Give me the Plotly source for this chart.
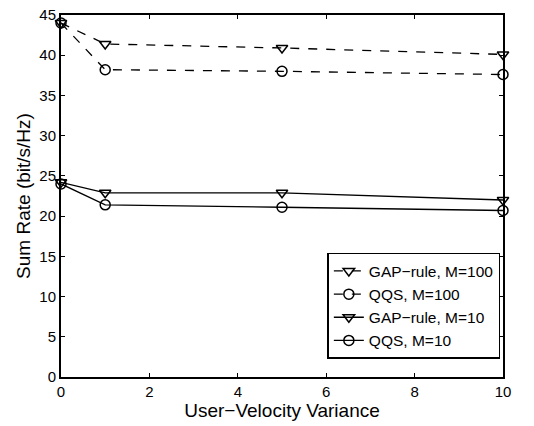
import plotly.graph_objects as go

x_vals = [0, 1, 5, 10]
gap_m100 = [44.0, 41.4, 40.9, 40.1]
qqs_m100 = [44.0, 38.2, 38.0, 37.6]
gap_m10 = [24.2, 22.9, 22.9, 22.0]
qqs_m10 = [24.0, 21.4, 21.1, 20.7]

series = [
    ("GAP\u2212rule, M=100", gap_m100, "dash", "triangle-down-open"),
    ("QQS, M=100", qqs_m100, "dash", "circle-open"),
    ("GAP\u2212rule, M=10", gap_m10, "solid", "triangle-down-open"),
    ("QQS, M=10", qqs_m10, "solid", "circle-open"),
]

FONT = "Liberation Sans, Arial, sans-serif"

fig = go.Figure()
for name, ys, dash, sym in series:
    fig.add_trace(go.Scatter(
        x=x_vals, y=ys, name=name, mode="lines+markers", cliponaxis=False,
        line=dict(color="black", width=1.3, dash=dash),
        marker=dict(symbol=sym, size=10, color="black", line=dict(width=1.5, color="black")),
    ))

axis_common = dict(
    showline=True, linecolor="black", linewidth=2, mirror="ticks",
    ticks="inside", ticklen=4, tickcolor="black", tickwidth=1,
    showgrid=False, zeroline=False, ticklabeloverflow="allow",
    tickfont=dict(family=FONT, size=15, color="black"),
)

fig.update_layout(
    width=534, height=426,
    margin=dict(l=61, r=31, t=6, b=49),
    plot_bgcolor="white", paper_bgcolor="white",
    font=dict(family=FONT, color="black"),
    xaxis=dict(range=[0, 10], dtick=2, title=dict(text="User\u2212Velocity Variance",
               font=dict(size=19), standoff=0), **axis_common),
    yaxis=dict(range=[0, 45], dtick=5, title=dict(text="Sum Rate (bit/s/Hz)",
               font=dict(size=19), standoff=4), **axis_common),
    legend=dict(x=0.994, y=0.05, xanchor="right", yanchor="bottom",
                bgcolor="white", bordercolor="black", borderwidth=1.5,
                font=dict(size=15.5), tracegroupgap=0, itemwidth=30),
    showlegend=True,
)

fig.write_html("out.html", config={"displayModeBar": False},
               post_script="document.body.style.margin='0px';")
